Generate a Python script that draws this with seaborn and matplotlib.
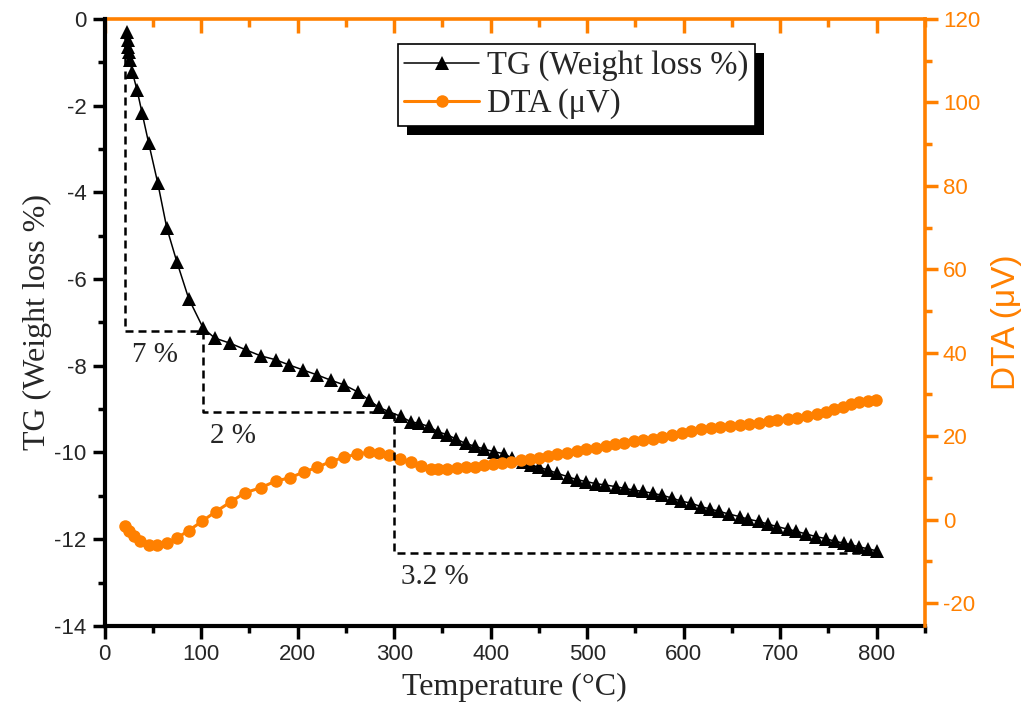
import matplotlib
matplotlib.use("Agg")
import matplotlib.pyplot as plt
import matplotlib.patches as mpatches
from matplotlib.ticker import MultipleLocator, NullFormatter
import seaborn as sns

ORANGE = "#FF8000"
SERIF = ["Liberation Serif", "DejaVu Serif"]

# TG curve (weight loss %)
tg_temp = [23, 24, 24.5, 25, 26, 28.5, 33.5, 38.7, 45.6, 55, 64.3, 74.7, 87, 102,
           114, 130, 146, 161.5, 177, 191, 206, 220, 234, 248, 262, 274, 284, 295,
           307, 317, 326, 336, 345, 355, 364, 374, 384, 393, 403, 414, 422, 433,
           442, 450, 459, 469, 480, 490, 499, 509, 519, 530, 539, 549, 558, 568,
           578, 588, 597, 608, 618, 627, 637, 647, 658, 667, 678, 687, 697, 708,
           717, 727, 737, 748, 757, 766, 774, 782, 791, 800]
tg_loss = [-0.29, -0.48, -0.64, -0.75, -0.95, -1.22, -1.64, -2.17, -2.87, -3.79,
           -4.82, -5.6, -6.45, -7.13, -7.36, -7.48, -7.63, -7.77, -7.86, -7.98,
           -8.10, -8.21, -8.33, -8.44, -8.60, -8.79, -8.96, -9.06, -9.17, -9.29,
           -9.33, -9.40, -9.52, -9.59, -9.69, -9.79, -9.86, -9.92, -9.98, -10.03,
           -10.13, -10.21, -10.29, -10.34, -10.40, -10.48, -10.56, -10.63, -10.67,
           -10.72, -10.75, -10.79, -10.83, -10.87, -10.90, -10.94, -10.99, -11.05,
           -11.12, -11.17, -11.25, -11.30, -11.36, -11.42, -11.48, -11.54, -11.59,
           -11.65, -11.71, -11.77, -11.82, -11.88, -11.94, -11.99, -12.05, -12.09,
           -12.13, -12.18, -12.22, -12.27]

# DTA curve (uV)
dta_temp = [21.5, 24.9, 30.1, 37, 45.6, 54.3, 64.6, 75, 87, 101, 114.8, 130.4,
            145.2, 161.5, 177, 191.9, 206.4, 220.2, 234.1, 248, 261.7, 273.9,
            284.2, 294.6, 305.6, 317.1, 327.5, 337.8, 345.8, 355, 364.8, 374,
            383.8, 393, 402.5, 412, 421.5, 431, 440.9, 450.2, 459.8, 469.2, 479.6,
            489.3, 498.6, 509, 519.4, 529, 538.4, 548.8, 558, 568, 578, 588, 598,
            608, 618, 628, 638, 648, 658, 668, 678, 688, 697, 708, 718, 728, 738,
            748, 756, 765, 774, 782, 791, 799]
dta_uv = [-1.6, -2.8, -4.0, -5.2, -6.0, -6.2, -5.6, -4.4, -2.65, -0.4, 1.85, 4.2,
          6.4, 7.6, 9.2, 10.0, 11.4, 12.5, 13.9, 14.9, 15.7, 16.1, 15.9, 15.4,
          14.6, 13.7, 12.8, 12.2, 12.0, 12.0, 12.3, 12.5, 12.7, 13.0, 13.2, 13.6,
          13.9, 14.2, 14.6, 14.8, 15.2, 15.6, 16.0, 16.4, 16.8, 17.2, 17.6, 18.0,
          18.4, 18.8, 19.0, 19.4, 19.9, 20.3, 20.7, 21.1, 21.6, 21.9, 22.2, 22.4,
          22.6, 23.0, 23.2, 23.5, 23.8, 24.0, 24.4, 24.8, 25.2, 25.8, 26.4, 27.0,
          27.6, 28.1, 28.4, 28.6]

# weight-loss steps (dashed guide) and their labels
step_temp = [21, 102, 300, 800]
step_level = [-0.3, -7.2, -9.06, -12.33]
step_labels = ["7 %", "2 %", "3.2 %"]

sns.set_style("ticks")
plt.rcParams["font.family"] = ["Liberation Sans"]
plt.rcParams["axes.unicode_minus"] = False

fig = plt.figure(figsize=(10.27, 7.04), dpi=100)
ax = fig.add_axes([0.102, 0.111, 0.7985, 0.862])
ax2 = ax.twinx()

sns.lineplot(x=tg_temp, y=tg_loss, ax=ax, color="black", marker="^", markersize=9.5,
             markeredgewidth=0, linewidth=1.1, label="TG (Weight loss %)", legend=False)
sns.lineplot(x=dta_temp, y=dta_uv, ax=ax2, color=ORANGE, marker="o", markersize=9,
             markeredgewidth=0, linewidth=2.2, label="DTA (\u03bcV)", legend=False)

# step guide
gx, gy = [step_temp[0]], [step_level[0]]
for i in range(1, len(step_temp)):
    gx += [step_temp[i - 1], step_temp[i]]
    gy += [step_level[i], step_level[i]]
ax2.plot(gx, gy, color="black", linewidth=1.8, linestyle=(0, (3.2, 2)),
         transform=ax.transData, zorder=3)
for i, lab in enumerate(step_labels):
    ax.text(step_temp[i] + 7, step_level[i + 1] - 0.55, lab, family=SERIF,
            fontsize=21, va="center", ha="left")

ax.set_xlim(0, 850)
ax.set_ylim(-14, 0)
ax2.set_ylim(-25.5, 120)

ax.xaxis.set_major_locator(MultipleLocator(100))
ax.xaxis.set_minor_locator(MultipleLocator(50))
ax.yaxis.set_major_locator(MultipleLocator(2))
ax.yaxis.set_minor_locator(MultipleLocator(1))
ax2.yaxis.set_major_locator(MultipleLocator(20))
ax2.yaxis.set_minor_locator(MultipleLocator(10))

ax.tick_params(which="major", length=9, width=2.5, color="black", labelsize=16, pad=4)
ax.tick_params(which="minor", length=5, width=2.5, color="black")
ax2.tick_params(axis="y", which="major", length=9, width=2.5, colors=ORANGE,
                labelsize=16, pad=4)
ax2.tick_params(axis="y", which="minor", length=5, width=2.5, colors=ORANGE)

for side in ["left", "bottom"]:
    ax.spines[side].set_color("black")
    ax.spines[side].set_linewidth(3)
    ax2.spines[side].set_visible(False)
ax.spines["top"].set_visible(False)
ax.spines["right"].set_visible(False)
ax2.spines["right"].set_color(ORANGE)
ax2.spines["right"].set_linewidth(2.6)
ax2.spines["top"].set_visible(False)

top = ax.secondary_xaxis("top")
top.xaxis.set_major_locator(MultipleLocator(100))
top.xaxis.set_minor_locator(MultipleLocator(50))
top.xaxis.set_major_formatter(NullFormatter())
top.tick_params(which="major", direction="in", length=10, width=2.5, color=ORANGE)
top.tick_params(which="minor", direction="in", length=6, width=2.5, color=ORANGE)
top.spines["top"].set_color(ORANGE)
top.spines["top"].set_linewidth(2.6)

ax.set_xlabel("Temperature (\u00b0C)", family=SERIF, fontsize=23, labelpad=6)
ax.set_ylabel("TG (Weight loss %)", family=SERIF, fontsize=23, labelpad=2)
ax2.set_ylabel("DTA (\u03bcV)", family="Liberation Sans", fontsize=24,
               color=ORANGE, labelpad=8)

h1, l1 = ax.get_legend_handles_labels()
h2, l2 = ax2.get_legend_handles_labels()
leg = ax2.legend(h1 + h2, l1 + l2, loc="upper left", bbox_to_anchor=(0.357, 0.959),
                 borderaxespad=0, frameon=True, fancybox=False, framealpha=1,
                 edgecolor="black", prop={"family": SERIF, "size": 23.5},
                 handlelength=2.3, handletextpad=0.25, borderpad=0.2,
                 labelspacing=0.22, numpoints=1)
leg.get_frame().set_linewidth(1.2)
leg.set_zorder(6)

# solid black drop shadow behind the legend box
fig.canvas.draw()
bb = leg.get_window_extent()
inv = fig.transFigure.inverted()
(x0, y0), (x1, y1) = inv.transform([(bb.x0 + 9, bb.y0 - 9), (bb.x1 + 9, bb.y1 - 9)])
ax2.add_patch(mpatches.Rectangle((x0, y0), x1 - x0, y1 - y0, transform=fig.transFigure,
                                 facecolor="black", edgecolor="none", zorder=5,
                                 clip_on=False))

fig.savefig("out.png", dpi=100)
